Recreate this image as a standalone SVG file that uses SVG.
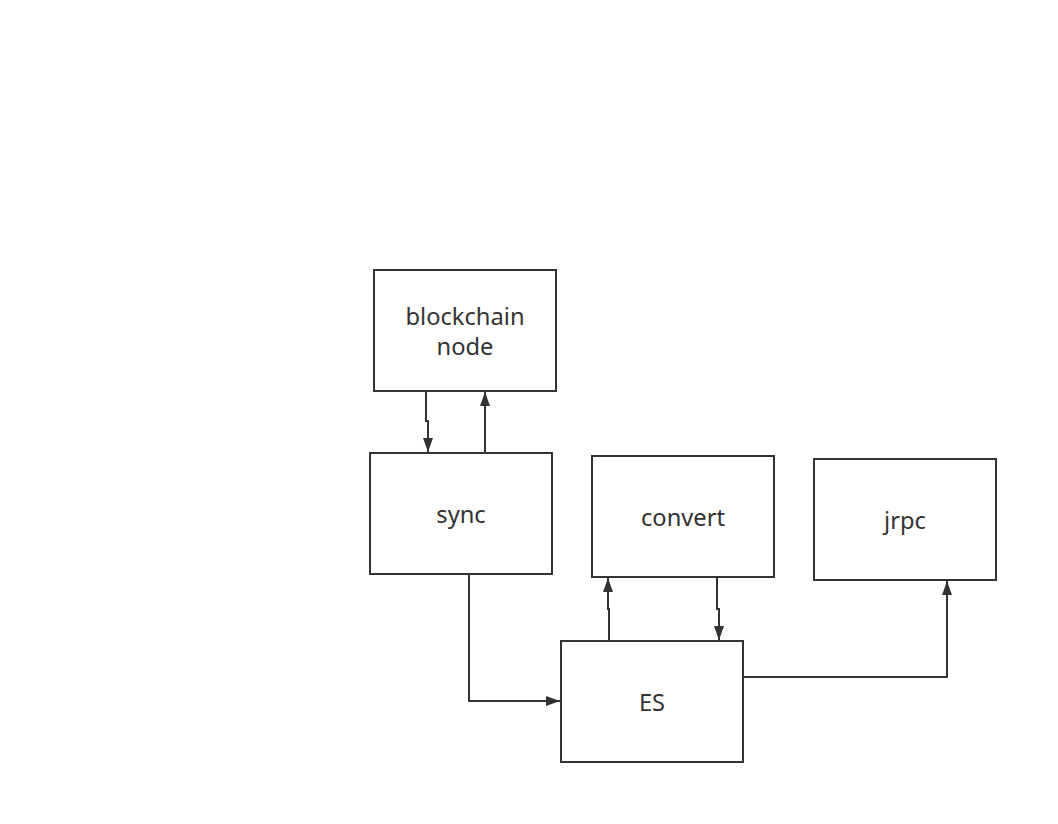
<svg xmlns="http://www.w3.org/2000/svg" width="1058" height="824" viewBox="0 0 1058 824">
<style>
.box{fill:#fff;stroke:#333;stroke-width:2}
.lbl{font-family:"Noto Sans","Open Sans",sans-serif;font-size:23.7px;fill:#333;text-anchor:middle}
.ln{fill:none;stroke:#333;stroke-width:2}
</style>
<defs>
<marker id="ah" viewBox="0 0 14 10" refX="14" refY="5" markerWidth="14" markerHeight="10" markerUnits="userSpaceOnUse" orient="auto">
<path d="M0,0 L14,5 L0,10 z" fill="#333"/>
</marker>
</defs>
<rect width="1058" height="824" fill="#fff"/>
<g id="connectors">
<path class="ln" d="M426,391 V421 H428 V452" marker-end="url(#ah)"/>
<path class="ln" d="M485,453 V392" marker-end="url(#ah)"/>
<path class="ln" d="M609,641 V609 H608 V578" marker-end="url(#ah)"/>
<path class="ln" d="M717,577 V609 H719 V640" marker-end="url(#ah)"/>
<path class="ln" d="M469,574 V701 H560" marker-end="url(#ah)"/>
<path class="ln" d="M743,677 H947 V581" marker-end="url(#ah)"/>
</g>
<g id="blockchain">
<rect class="box" x="374" y="270" width="182" height="121"/>
<text class="lbl" x="465" y="325">blockchain</text>
<text class="lbl" x="465" y="355">node</text>
</g>
<g id="sync">
<rect class="box" x="370" y="453" width="182" height="121"/>
<text class="lbl" x="461" y="523">sync</text>
</g>
<g id="convert">
<rect class="box" x="592" y="456" width="182" height="121"/>
<text class="lbl" x="683" y="526">convert</text>
</g>
<g id="jrpc">
<rect class="box" x="814" y="459" width="182" height="121"/>
<text class="lbl" x="905" y="529">jrpc</text>
</g>
<g id="es">
<rect class="box" x="561" y="641" width="182" height="121"/>
<text class="lbl" x="652" y="711">ES</text>
</g>
</svg>
